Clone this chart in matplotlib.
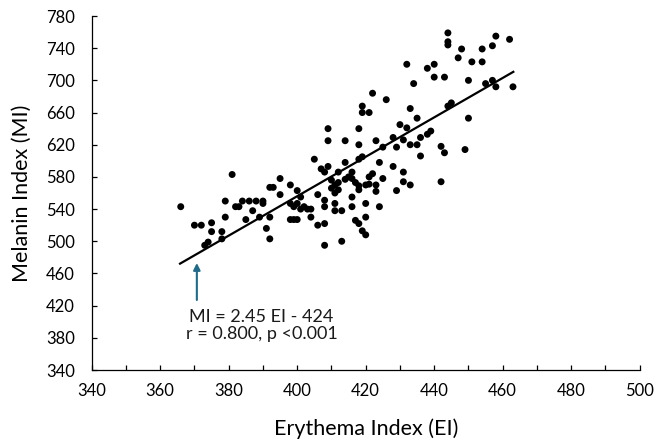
import matplotlib
matplotlib.use("Agg")
import matplotlib.pyplot as plt
import numpy as np

plt.rcParams['font.family'] = ['Lato', 'DejaVu Sans']

# Erythema index (x) and melanin index (y)
ei = [366, 381, 370, 372, 375, 375, 378, 378, 373, 374,
      379, 379, 382, 383, 384, 386, 388, 390, 390, 387,
      385, 389, 391, 392, 392, 392, 393, 395, 395, 398,
      398, 399, 400, 401, 402, 403, 404, 398, 399, 400,
      404, 406, 405, 406, 400, 401, 422, 426, 419, 419,
      421, 409, 418, 430, 409, 414, 418, 423, 428, 425,
      429, 431, 414, 407, 409, 408, 418, 419, 424, 428,
      412, 414, 415, 416, 410, 411, 412, 410, 412, 411,
      416, 417, 418, 418, 420, 421, 422, 421, 423, 423,
      425, 431, 431, 429, 424, 420, 416, 416, 420, 417,
      418, 419, 420, 413, 411, 411, 408, 408, 408, 408,
      413, 444, 444, 444, 458, 462, 448, 454, 457, 447,
      451, 454, 432, 438, 440, 440, 443, 434, 450, 455,
      457, 458, 463, 433, 435, 444, 445, 450, 432, 433,
      435, 436, 438, 439, 436, 442, 443, 449, 433, 442]
mi = [543, 583, 520, 520, 523, 512, 512, 503, 495, 499,
      530, 550, 543, 543, 550, 550, 550, 550, 547, 538,
      527, 530, 516, 503, 530, 567, 567, 578, 558, 570,
      547, 543, 547, 540, 543, 540, 540, 527, 527, 527,
      530, 520, 602, 558, 563, 555, 684, 676, 668, 660,
      660, 640, 640, 645, 625, 625, 620, 625, 629, 617,
      617, 626, 598, 590, 593, 586, 602, 605, 598, 593,
      586, 577, 580, 586, 576, 570, 573, 566, 564, 560,
      578, 573, 569, 564, 570, 580, 584, 571, 570, 562,
      578, 586, 574, 563, 543, 547, 555, 543, 530, 526,
      522, 513, 508, 538, 538, 547, 551, 543, 522, 495,
      500, 759, 748, 744, 755, 751, 739, 739, 743, 728,
      723, 723, 720, 715, 720, 704, 704, 696, 700, 696,
      700, 692, 692, 665, 653, 668, 672, 653, 641, 620,
      620, 629, 633, 637, 606, 618, 610, 614, 570, 574]

# fitted line as printed on the chart
slope, intercept = 2.45, -424
fit_range = [365.8, 463.1]
eq_line = "MI = 2.45 EI - 424"
stat_line = "r = 0.800, p <0.001"

fig = plt.figure(figsize=(6.54, 4.41), dpi=100)
ax = fig.add_axes([91.7 / 654, 1 - 370 / 441, 548 / 654, 354 / 441])

ax.scatter(ei, mi, s=25, color='black', edgecolors='none', zorder=3)
fx = np.array(fit_range)
ax.plot(fx, slope * fx + intercept, color='black', lw=1.6, zorder=2)

ax.annotate('', xy=(370.7, 473), xytext=(370.7, 427),
            arrowprops=dict(arrowstyle='-|>', color='#1f6b8a', lw=1.5,
                            mutation_scale=10, shrinkA=0, shrinkB=0))
ax.text(389.6, 406, eq_line, ha='center', va='center', fontsize=13,
        color='#1a1a1a')
ax.text(389.6, 384.6, stat_line, ha='center', va='center', fontsize=13,
        color='#1a1a1a')

ax.set_xlim(340, 500)
ax.set_ylim(340, 780)
ax.set_xticks(np.arange(340, 501, 20))
ax.set_xticks(np.arange(350, 500, 20), minor=True)
ax.set_yticks(np.arange(340, 781, 40))
ax.tick_params(axis='both', which='both', direction='in', length=3.5,
               width=0.9, labelsize=12, colors='black')
ax.tick_params(axis='y', which='major', pad=12)
ax.tick_params(axis='x', which='major', pad=9)

for side in ['top', 'right']:
    ax.spines[side].set_visible(False)
for side in ['left', 'bottom']:
    ax.spines[side].set_linewidth(0.9)

ax.set_xlabel('Erythema Index (EI)', fontsize=15.5, labelpad=14)
ax.set_ylabel('Melanin Index (MI)', fontsize=15.5, labelpad=10)

plt.savefig('out.png', dpi=100)
